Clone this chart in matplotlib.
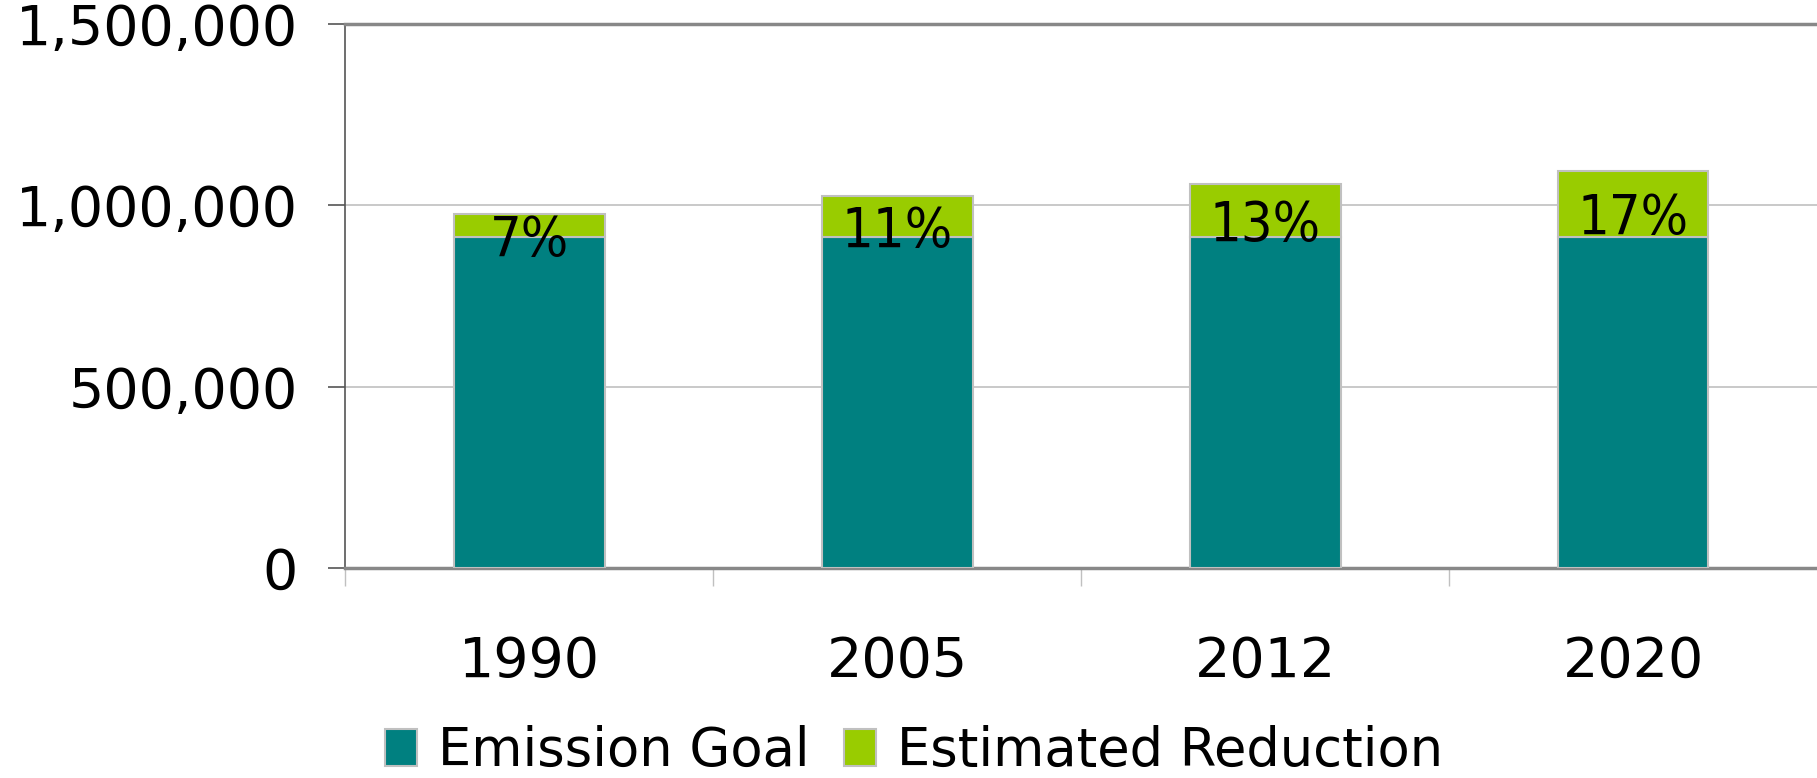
import matplotlib.pyplot as plt
from matplotlib.ticker import FuncFormatter, FixedLocator
import numpy as np

# Chart data
years = ["1990", "2005", "2012", "2020"]
emission_goal = [913000, 913000, 913000, 913000]
estimated_reduction = [64000, 112000, 145000, 181000]
pct_labels = ["7%", "11%", "13%", "17%"]

teal = "#008080"
lime = "#99cc00"
edge = "#c0c0c0"

plt.rcParams["font.family"] = ["DejaVu Sans"]
fs = 40

fig = plt.figure(figsize=(18.17, 7.78), dpi=100)
ax = fig.add_axes([0.19, 0.27, 0.81, 0.699])

x = np.arange(len(years))
width = 0.41

ax.bar(x, emission_goal, width, color=teal, edgecolor=edge, linewidth=1.5,
       label="Emission Goal", zorder=3)
ax.bar(x, estimated_reduction, width, bottom=emission_goal, color=lime,
       edgecolor=edge, linewidth=1.5, label="Estimated Reduction", zorder=3)

# percent labels in the middle of the reduction segment
for i in range(len(years)):
    mid = emission_goal[i] + estimated_reduction[i] / 2
    ax.annotate(pct_labels[i], (x[i], mid), xytext=(0, -11),
                textcoords="offset points", ha="center", va="center",
                fontsize=fs, fontstretch="condensed", color="black", zorder=4)

ax.set_xlim(-0.5, 3.5)
ax.set_ylim(0, 1500000)
ax.set_yticks([0, 500000, 1000000, 1500000])
ax.yaxis.set_major_formatter(FuncFormatter(lambda v, p: f"{int(v):,}"))

ax.set_xticks(x)
ax.set_xticklabels(years)
ax.xaxis.set_minor_locator(FixedLocator([-0.5, 0.5, 1.5, 2.5]))

ax.tick_params(axis="x", which="major", length=0, pad=48, labelsize=fs)
ax.tick_params(axis="x", which="minor", length=13, width=1, color="#c0c0c0")
ax.tick_params(axis="y", length=12, width=1.2, color="#555555", pad=22, labelsize=fs)

ax.grid(axis="y", color="#c0c0c0", linewidth=1.2, zorder=0)
ax.set_axisbelow(True)

ax.spines["right"].set_visible(False)
ax.spines["left"].set_color("#555555")
ax.spines["left"].set_linewidth(1.2)
ax.spines["bottom"].set_color("#888888")
ax.spines["bottom"].set_linewidth(2.5)
ax.spines["top"].set_color("#888888")
ax.spines["top"].set_linewidth(2.5)

fig.legend(loc="center", bbox_to_anchor=(0.503, 0.035), ncol=2, frameon=False,
           fontsize=38, handlelength=0.6, handleheight=0.7,
           handletextpad=0.4, columnspacing=0.65)

fig.savefig("out.png", dpi=100)
